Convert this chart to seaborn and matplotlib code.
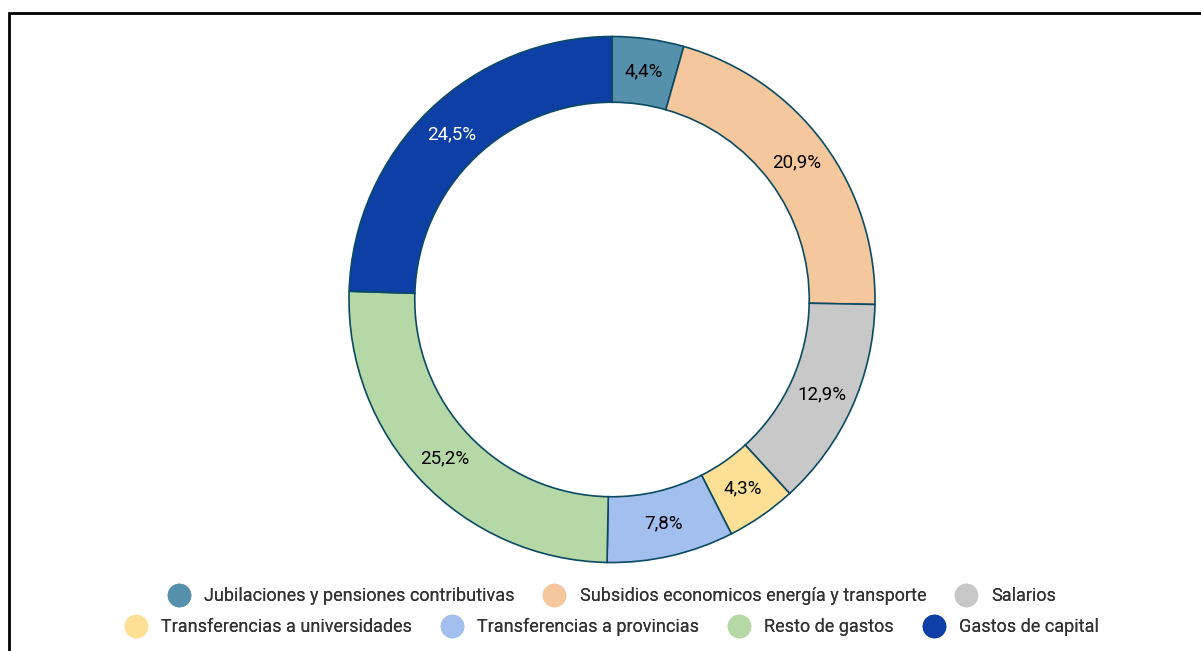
import matplotlib
matplotlib.use("Agg")
import matplotlib.pyplot as plt
import seaborn as sns
import numpy as np
from matplotlib.lines import Line2D
from matplotlib.patches import Rectangle

categorias = [
    "Jubilaciones y pensiones contributivas",
    "Subsidios economicos energía y transporte",
    "Salarios",
    "Transferencias a universidades",
    "Transferencias a provincias",
    "Resto de gastos",
    "Gastos de capital",
]
porcentajes = [4.4, 20.9, 12.9, 4.3, 7.8, 25.2, 24.5]
colores = ["#5591ad", "#f4c89c", "#c8c8c8", "#fde095", "#a3bfef", "#b5d8a6", "#0d3fa6"]
etiquetas = ["4,4%", "20,9%", "12,9%", "4,3%", "7,8%", "25,2%", "24,5%"]
color_etiquetas = ["black", "black", "black", "black", "black", "black", "white"]

sns.set_theme(style="white")
plt.rcParams["font.family"] = ["Roboto", "DejaVu Sans"]

W, H = 1201, 651
fig = plt.figure(figsize=(W / 100, H / 100), dpi=100)
fig.patch.set_facecolor("white")

# centro del donut (612, 299.5) px, radio 263 px
cx, cy, r = 612, 299.5, 263
ax = fig.add_axes([(cx - r) / W, (H - cy - r) / H, 2 * r / W, 2 * r / H])

cunias, textos = ax.pie(
    porcentajes,
    colors=colores,
    startangle=90,
    counterclock=False,
    radius=1,
    wedgeprops=dict(width=0.25, edgecolor="#0b4a63", linewidth=1.2),
)
ax.set_xlim(-1, 1)
ax.set_ylim(-1, 1)
ax.set_aspect("equal")
ax.axis("off")

for cunia, txt, col in zip(cunias, etiquetas, color_etiquetas):
    ang = np.deg2rad((cunia.theta1 + cunia.theta2) / 2)
    ax.text(0.875 * np.cos(ang), 0.875 * np.sin(ang), txt, ha="center", va="center",
            fontsize=13.5, color=col)

# leyenda en dos filas (3 + 4)
def manejador(c):
    return Line2D([], [], marker="o", linestyle="none", markersize=16,
                  markerfacecolor=c, markeredgecolor=c)

fila1 = [0, 1, 2]
fila2 = [3, 4, 5, 6]
for fila, y in [(fila1, (H - 596) / H), (fila2, (H - 627) / H)]:
    leg = fig.legend(
        [manejador(colores[i]) for i in fila],
        [categorias[i] for i in fila],
        loc="center", bbox_to_anchor=(cx / W, y), ncol=len(fila),
        frameon=False, fontsize=13, handletextpad=0.8, columnspacing=1.6,
        handlelength=1.2, borderpad=0, borderaxespad=0,
    )
    for t in leg.get_texts():
        t.set_color("#333333")
    fig.add_artist(leg)

# marco recortado
fig.patches.append(Rectangle((8.5 / W, -0.1), 1.2, (H - 12.5) / H + 0.1,
                             transform=fig.transFigure, fill=False,
                             edgecolor="black", linewidth=2))

fig.savefig("out.png", dpi=100)
